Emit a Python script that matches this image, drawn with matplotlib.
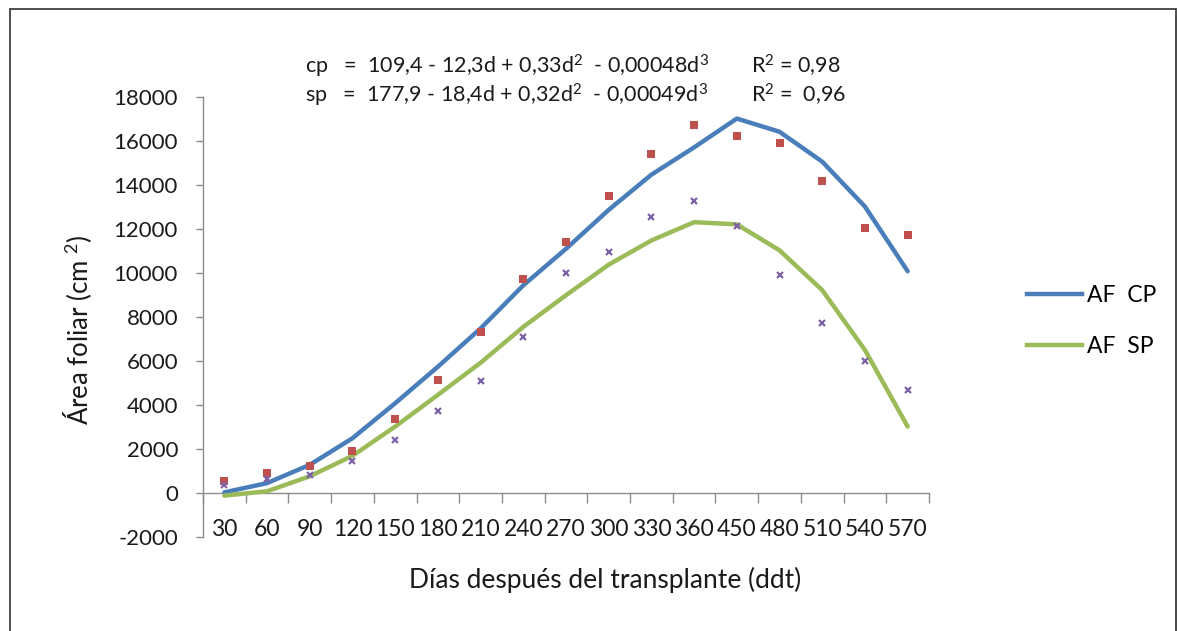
import numpy as np
import matplotlib
matplotlib.use("Agg")
import matplotlib.pyplot as plt
from matplotlib.patches import Rectangle
from matplotlib.lines import Line2D

plt.rcParams['font.family'] = ['Lato', 'DejaVu Sans']
plt.rcParams['axes.unicode_minus'] = False
plt.rcParams['mathtext.fontset'] = 'custom'
plt.rcParams['mathtext.rm'] = 'Lato'
plt.rcParams['mathtext.it'] = 'Lato'
plt.rcParams['mathtext.default'] = 'regular'

# días después del trasplante (categorías del eje x)
dias = ['30', '60', '90', '120', '150', '180', '210', '240', '270',
        '300', '330', '360', '450', '480', '510', '540', '570']

# valores observados (puntos)
af_cp_obs = [530, 910, 1210, 1890, 3350, 5140, 7300, 9710, 11410,
             13500, 15420, 16720, 16210, 15920, 14180, 12040, 11750]
af_sp_obs = [350, 650, 800, 1440, 2390, 3750, 5090, 7070, 10000,
             10950, 12540, 13280, 12150, 9890, 7730, 6000, 4680]

# curvas ajustadas (líneas)
af_cp_fit = [30, 450, 1280, 2490, 4080, 5740, 7480, 9440, 11100,
             12870, 14470, 15710, 17020, 16420, 15060, 13020, 10080]
af_sp_fit = [-120, 80, 760, 1690, 3020, 4460, 5920, 7550, 8990,
             10380, 11480, 12310, 12210, 11030, 9220, 6500, 3020]

W, H = 1178, 631
fig = plt.figure(figsize=(W / 100, H / 100), dpi=100)
ax = fig.add_axes([203 / W, 1 - 537 / H, (929 - 203) / W, (537 - 97) / H])

x = np.arange(len(dias))
azul = '#4A7EBB'
verde = '#9BBB59'

ax.plot(x, af_cp_fit, color=azul, lw=3.2, solid_capstyle='round', zorder=3)
ax.plot(x, af_sp_fit, color=verde, lw=3.2, solid_capstyle='round', zorder=3)
ax.plot(x, af_cp_obs, 's', color='#C0504D', ms=6, mew=0, zorder=4)
ax.plot(x, af_sp_obs, 'x', color='#7E62A6', ms=4.5, mew=1.6, zorder=4)

ax.set_xlim(-0.5, len(dias) - 0.5)
ax.set_ylim(-2000, 18000)
ax.set_yticks(np.arange(-2000, 18001, 2000))

# eje de categorías en y = 0, marcas entre categorías
ax.spines['bottom'].set_position(('data', 0))
ax.spines['top'].set_visible(False)
ax.spines['right'].set_visible(False)
for s in ['left', 'bottom']:
    ax.spines[s].set_color('#8C8C8C')
    ax.spines[s].set_linewidth(1.0)

ax.set_xticks(x)
ax.set_xticklabels(dias)
ax.set_xticks(np.arange(-0.5, len(dias)), minor=True)
ax.tick_params(axis='x', which='major', length=0, pad=19, labelsize=16.5, colors='#1a1a1a')
ax.tick_params(axis='x', which='minor', length=7, width=1, color='#8C8C8C')
ax.tick_params(axis='y', length=5, width=1, color='#8C8C8C', pad=13, labelsize=16,
               labelcolor='#1a1a1a')

# ecuaciones
fs_eq = 15.5
fig.text(305 / W, 1 - 66 / H, r'cp   =  109,4 - 12,3d + 0,33d$^2$  - 0,00048d$^3$',
         fontsize=fs_eq, va='center', ha='left', color='#1a1a1a')
fig.text(305 / W, 1 - 95 / H, r'sp   =  177,9 - 18,4d + 0,32d$^2$  - 0,00049d$^3$',
         fontsize=fs_eq, va='center', ha='left', color='#1a1a1a')
fig.text(751 / W, 1 - 66 / H, r'R$^2$ = 0,98', fontsize=fs_eq, va='center', ha='left',
         color='#1a1a1a')
fig.text(751 / W, 1 - 95 / H, r'R$^2$ =  0,96', fontsize=fs_eq, va='center', ha='left',
         color='#1a1a1a')

# títulos de ejes
fig.text(78 / W, 1 - 330 / H, r'Área foliar (cm $^2$)', rotation=90, fontsize=18.5,
         va='center', ha='center', color='#1a1a1a')
fig.text(605 / W, 1 - 580 / H, 'Días después del transplante (ddt)', fontsize=19,
         va='center', ha='center', color='#1a1a1a')

# leyenda
handles = [Line2D([], [], color=azul, lw=3.2), Line2D([], [], color=verde, lw=3.2)]
ax.legend(handles, ['AF  CP', 'AF  SP'], loc='center left',
          bbox_to_anchor=(1006 / W, 1 - 321 / H), bbox_transform=fig.transFigure,
          frameon=False, fontsize=16.5, handlelength=2.4, handletextpad=0.25,
          labelspacing=1.3)

# marco exterior
fig.patches.append(Rectangle((10 / W, -0.01), (1176 - 10) / W, 1.01 - 9 / H,
                             transform=fig.transFigure, fill=False,
                             edgecolor='#404040', lw=1.3))

fig.savefig('out.png', dpi=100)
